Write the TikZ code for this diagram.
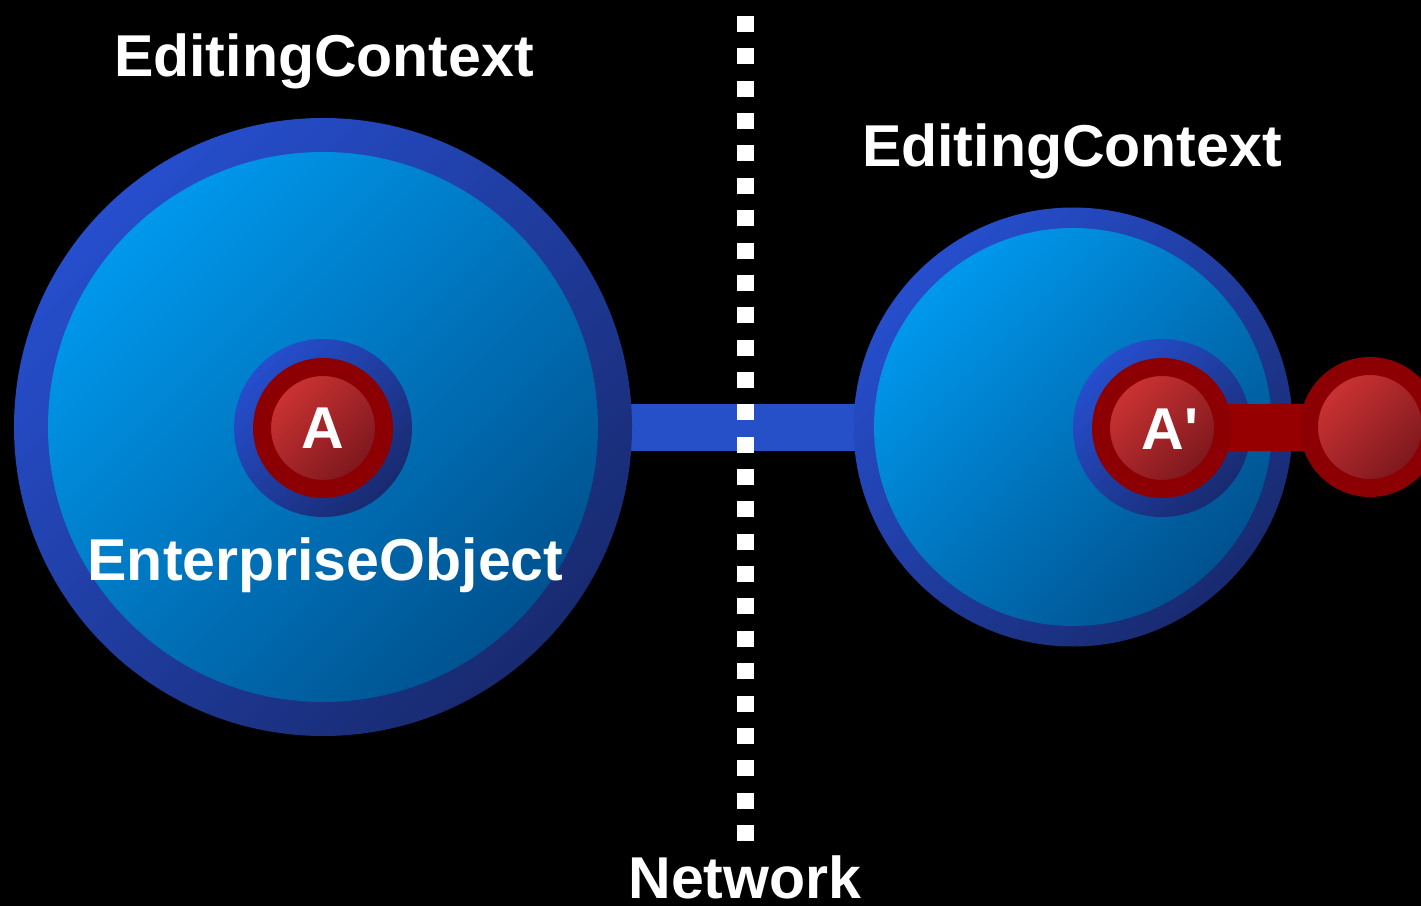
\documentclass[tikz,border=0pt]{standalone}
\usepackage{fontspec}
\newfontfamily\diagfont{Liberation Sans}[Ligatures=TeXOff]
\newcommand\lblfont{\diagfont\bfseries\fontsize{16.8pt}{19pt}\selectfont}
\usetikzlibrary{positioning}
\definecolor{ringblue}{RGB}{38,78,205}
\definecolor{ringdark}{RGB}{24,42,112}
\definecolor{discblue}{RGB}{0,156,242}
\definecolor{discdark}{RGB}{0,78,138}
\definecolor{linkblue}{RGB}{38,80,200}
\definecolor{shellred}{RGB}{140,0,4}
\definecolor{corered}{RGB}{208,52,52}
\definecolor{coredark}{RGB}{120,22,28}
\definecolor{linkred}{RGB}{150,0,0}
\pgfdeclarelayer{back}
\pgfdeclarelayer{ctxlayer}
\pgfdeclarelayer{links}
\pgfsetlayers{back,ctxlayer,links,main}

\begin{document}
\begin{tikzpicture}[
ctx/.style 2 args={circle,inner sep=0pt,minimum size=#1,top color=ringblue,bottom color=ringdark,shading angle=45,
  path picture={\shade[disc] (path picture bounding box.center) circle (#2);}},
disc/.style={top color=discblue,bottom color=discdark,shading angle=45},
halo/.style={top color=ringblue,bottom color=ringdark,shading angle=45},
obj/.style={circle,inner sep=0pt,minimum size=1.22cm,draw=shellred,line width=0.18cm,top color=corered,bottom color=coredark,shading angle=45,text=white,font=\lblfont},
lbl/.style={text=white,font=\lblfont,anchor=base,inner sep=0pt},
netlink/.style={linkblue,line width=0.47cm,shorten <=-0.05cm,shorten >=-0.05cm},
objlink/.style={linkred,line width=0.47cm,shorten <=-0.06cm,shorten >=-0.06cm},
wire/.style={white,line width=0.17cm,dash pattern=on 0.16cm off 0.1636cm}
]
\begin{pgfonlayer}{back}
\fill[black] (0,0) rectangle (14.21,9.06);
\end{pgfonlayer}
\useasboundingbox (0,0) rectangle (14.21,9.06);

% editing contexts
\begin{pgfonlayer}{ctxlayer}
\node[ctx={6.18cm}{2.75cm}] (ecL) at (3.23,4.79) {};
\node[ctx={4.39cm}{1.99cm}] (ecR) at (10.73,4.79) {};
\end{pgfonlayer}

% enterprise objects
\node[obj] (eoA) at (3.23,4.78) {A};
\node[obj] (eoB) at (11.62,4.78) {};
\node[obj] (eoC) at (13.70,4.79) {};
\node[lbl] (eoBlbl) at (11.70,4.57) {A'};

\begin{pgfonlayer}{ctxlayer}
\shade[halo] (eoA.center) circle (0.89);
\shade[halo] (eoB.center) circle (0.89);
\end{pgfonlayer}

% links
\begin{pgfonlayer}{back}
\draw[netlink] (ecL) -- (ecR);
\end{pgfonlayer}
\begin{pgfonlayer}{links}
\draw[objlink] (eoB) -- (eoC);
\end{pgfonlayer}

% network boundary
\coordinate (netTop) at (7.45,8.90);
\coordinate (netBot) at (7.45,0.65);
\draw[wire] (netTop) -- (netBot);

\node[lbl] (ecLlbl) at (3.24,8.29) {EditingContext};
\node[lbl] (ecRlbl) at (10.72,7.39) {EditingContext};
\node[lbl] (eoLbl) at (3.255,3.26) {EnterpriseObject};
\node[lbl] (netLbl) at (7.45,0.08) {Network};
\end{tikzpicture}
\end{document}
